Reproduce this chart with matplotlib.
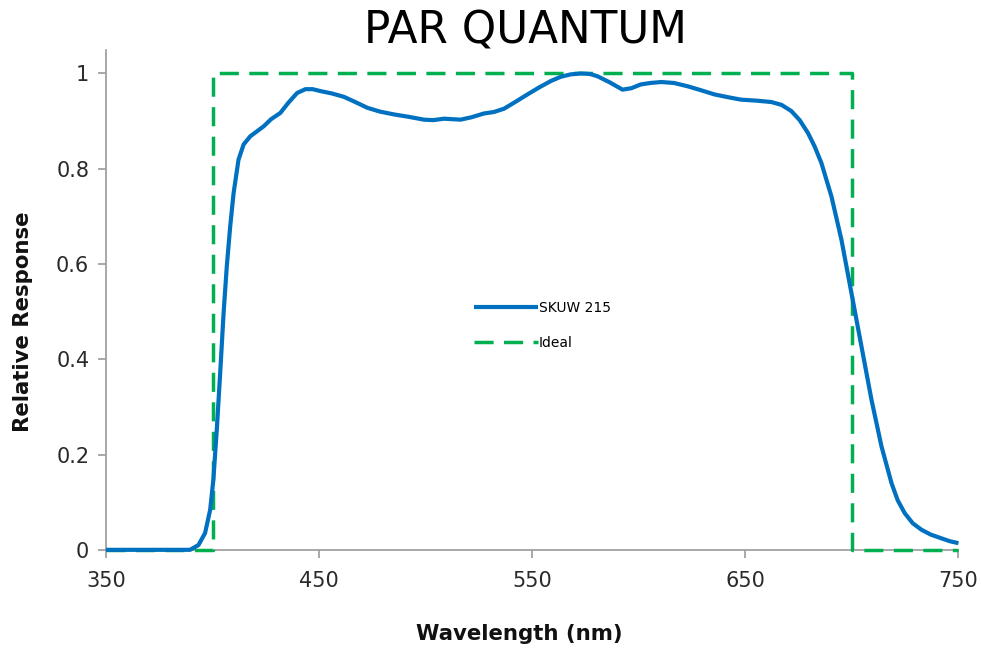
import matplotlib.pyplot as plt

wavelength = [350, 389.5, 393.4, 396.5, 398.9, 400.4, 402.0, 403.6, 405.2, 406.7,
              408.3, 409.9, 412.2, 414.6, 417.7, 421.0, 424.0, 427.5, 431.8, 435.5,
              439.7, 443.6, 447.0, 450.6, 456.0, 461.6, 467.0, 472.6, 478.5, 485.1,
              492.0, 499.2, 503.5, 508.6, 512.5, 516.4, 521.5, 527.4, 532.0, 536.8,
              542.0, 547.8, 553.0, 558.7, 563.4, 568.0, 572.8, 577.0, 580.7, 586.5,
              592.4, 596.5, 601.0, 605.5, 610.5, 616.5, 623.0, 629.0, 635.5, 642.0,
              648.0, 655.0, 662.2, 667.0, 671.6, 675.5, 679.4, 682.5, 685.7, 690.4,
              695.1, 699.8, 704.5, 709.2, 713.9, 718.6, 721.5, 724.8, 728.5, 732.7,
              737.0, 742.1, 746.0, 750.0]
response = [0.0, 0.0, 0.01, 0.035, 0.084, 0.147, 0.252, 0.371, 0.497, 0.595,
            0.679, 0.749, 0.819, 0.851, 0.868, 0.879, 0.889, 0.904, 0.917, 0.938,
            0.959, 0.967, 0.967, 0.963, 0.958, 0.951, 0.940, 0.928, 0.920, 0.914,
            0.909, 0.903, 0.902, 0.905, 0.904, 0.903, 0.908, 0.916, 0.919, 0.926,
            0.940, 0.956, 0.970, 0.984, 0.993, 0.998, 1.0, 0.999, 0.994, 0.981,
            0.966, 0.969, 0.977, 0.980, 0.982, 0.980, 0.973, 0.965, 0.956, 0.950,
            0.945, 0.943, 0.940, 0.934, 0.921, 0.902, 0.875, 0.847, 0.812, 0.742,
            0.651, 0.539, 0.427, 0.315, 0.217, 0.140, 0.104, 0.077, 0.056, 0.042,
            0.032, 0.024, 0.018, 0.014]

# ideal PAR response (step 400-700 nm)
ideal_wl = [350, 400, 400, 700, 700, 750]
ideal_resp = [0, 0, 1, 1, 0, 0]

x_ticks = [350, 450, 550, 650, 750]
y_ticks = [0, 0.2, 0.4, 0.6, 0.8, 1]
y_tick_labels = ['0', '0.2', '0.4', '0.6', '0.8', '1']


def main():
    fig = plt.figure(figsize=(9.81, 6.53), dpi=100)
    ax = fig.add_axes([0.108, 0.158, 0.869, 0.766])

    ax.plot(ideal_wl, ideal_resp, color='#00B050', lw=2.5, dashes=(5.5, 3),
            label='Ideal', zorder=3, clip_on=False)
    ax.plot(wavelength, response, color='#0070C0', lw=3, label='SKUW 215',
            solid_joinstyle='round', solid_capstyle='butt', zorder=4,
            clip_on=False)

    ax.set_xlim(350, 750)
    ax.set_ylim(0, 1.05)
    ax.set_xticks(x_ticks)
    ax.set_yticks(y_ticks)
    ax.set_yticklabels(y_tick_labels)

    for s in ['top', 'right']:
        ax.spines[s].set_visible(False)
    for s in ['left', 'bottom']:
        ax.spines[s].set_color('#9a9a9a')
        ax.spines[s].set_linewidth(1.2)
    ax.tick_params(axis='both', colors='#9a9a9a', length=6, width=1.2,
                   labelsize=15, labelcolor='#2a2a2a')
    ax.tick_params(axis='x', pad=9)
    ax.tick_params(axis='y', pad=6)

    ax.set_xlabel('Wavelength (nm)', fontsize=15.3, fontweight='bold',
                  color='#111111')
    ax.set_ylabel('Relative Response', fontsize=15.3, fontweight='bold',
                  color='#111111')
    ax.xaxis.set_label_coords(0.485, -0.148)
    ax.yaxis.set_label_coords(-0.086, 0.456)
    fig.suptitle('PAR QUANTUM', fontsize=31.5, x=0.536, y=0.985)

    handles, labels = ax.get_legend_handles_labels()
    ax.legend(handles[::-1], labels[::-1], loc='center',
              bbox_to_anchor=(0.512, 0.448), frameon=False, fontsize=10,
              handlelength=4.6, handletextpad=0.1, labelspacing=1.5)

    fig.savefig('out.png', dpi=100)
    plt.close(fig)


if __name__ == '__main__':
    main()
